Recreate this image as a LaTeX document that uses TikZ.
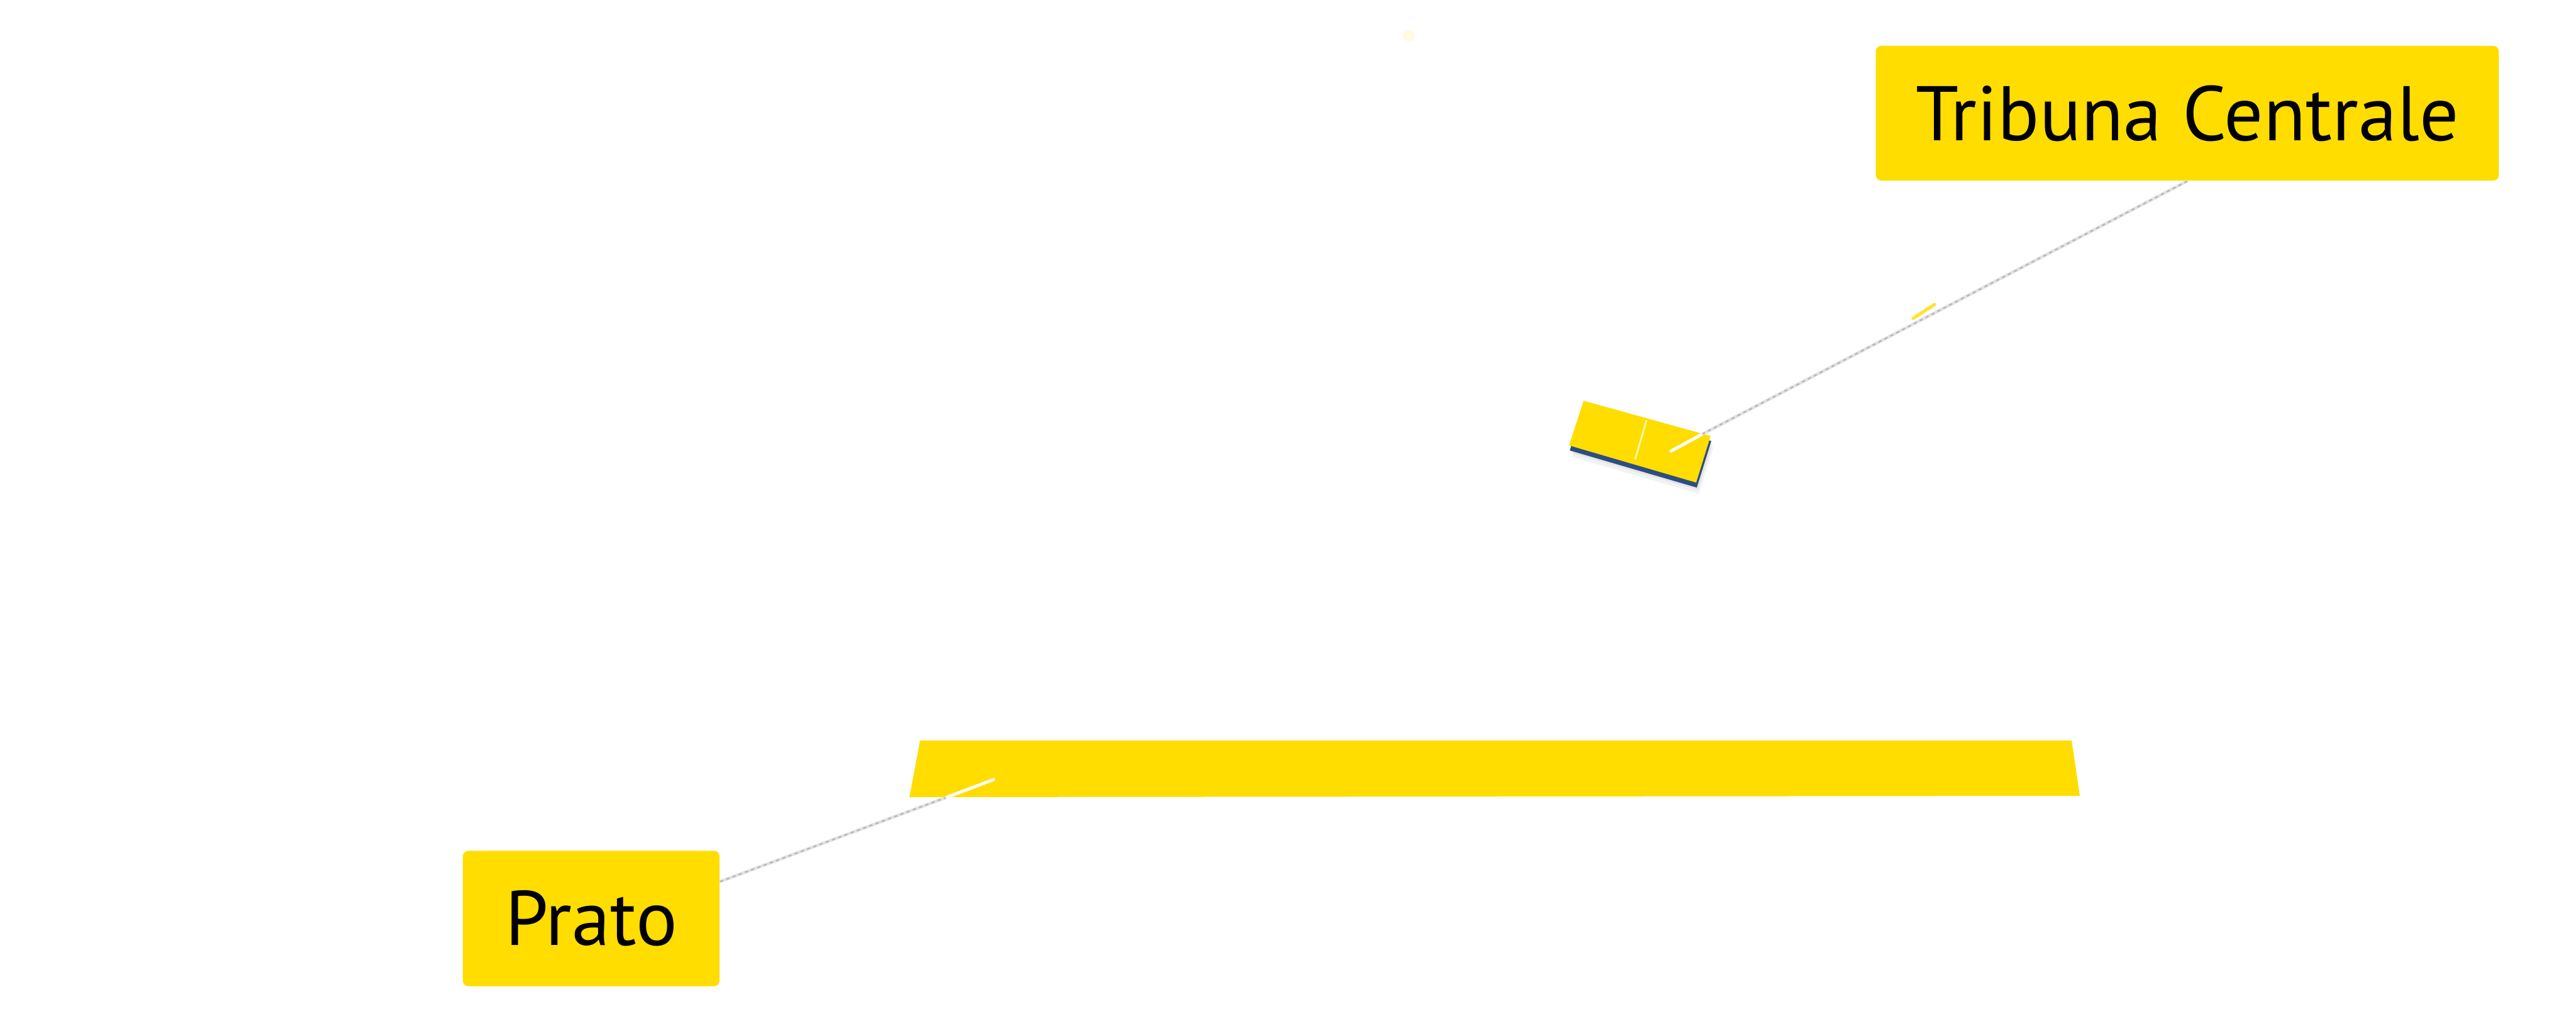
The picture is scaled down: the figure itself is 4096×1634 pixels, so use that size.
\documentclass[tikz,border=0pt]{standalone}
\usepackage{fontspec}
\setmainfont{PT Sans}
\usetikzlibrary{calc}
\definecolor{tagyellow}{RGB}{255,221,0}
\definecolor{edgeblue}{RGB}{44,78,128}
\tikzstyle{tag}=[rectangle, rounded corners=2.5pt, fill=tagyellow, text=black, inner sep=0pt, font=\fontsize{35}{40}\selectfont]
\tikzstyle{leader}=[draw=gray!22, line width=1.4pt, postaction={draw=gray!55, line width=0.7pt, dash pattern=on 1.5pt off 1.5pt}]
\tikzstyle{leadertip}=[draw=white, line width=1.4pt, line cap=round]
\tikzstyle{plate}=[fill=tagyellow]

\begin{document}
\begin{tikzpicture}[x=0.01cm, y=-0.01cm]
    \useasboundingbox[fill=white] (0,0) rectangle (4096,1634);

    % small stand plate, with its shadow and blue edge
    \foreach \s in {18,12,7}
        \fill[black, opacity=0.05, shift={(\s/4,\s)}] (2518,637) -- (2720,693) -- (2697,767) -- (2495,708) -- cycle;
    \fill[edgeblue, shift={(1,8)}] (2518,637) -- (2720,693) -- (2697,767) -- (2495,708) -- cycle;
    \fill[plate] (2518,637) -- (2720,693) -- (2697,767) -- (2495,708) -- cycle;
    \draw[yellow!35!white, line width=0.8pt] (2618,668) -- (2600,730);

    % field strip
    \fill[plate] (1463,1177) -- (3294,1177) -- (3307,1265) -- (1446,1267) -- cycle;

    % stray marks
    \fill[tagyellow, opacity=0.12] (2240,57) circle (9);

    \foreach \x/\y/\w/\h/\name/\txt in {3478/180/9.9/2.14/tribuna/Tribuna Centrale, 940/1460/4.08/2.15/prato/Prato}
        \node[tag, minimum width=\w cm, minimum height=\h cm] (\name) at (\x,\y) {\txt};

    \coordinate (tribuna-edge) at (2705,691);
    \coordinate (tribuna-pin) at (2657,717);
    \coordinate (prato-edge) at (1506,1267);
    \coordinate (prato-pin) at (1580,1239);

    \foreach \name/\anc in {tribuna/south, prato/16} {
        \draw[leader] (\name.\anc) -- (\name-edge);
        \draw[leadertip] (\name-edge) -- (\name-pin);
    }
    \draw[tagyellow, line width=1.5pt, line cap=round, opacity=0.8] (3042,506) -- (3076,484);

\end{tikzpicture}
\end{document}
